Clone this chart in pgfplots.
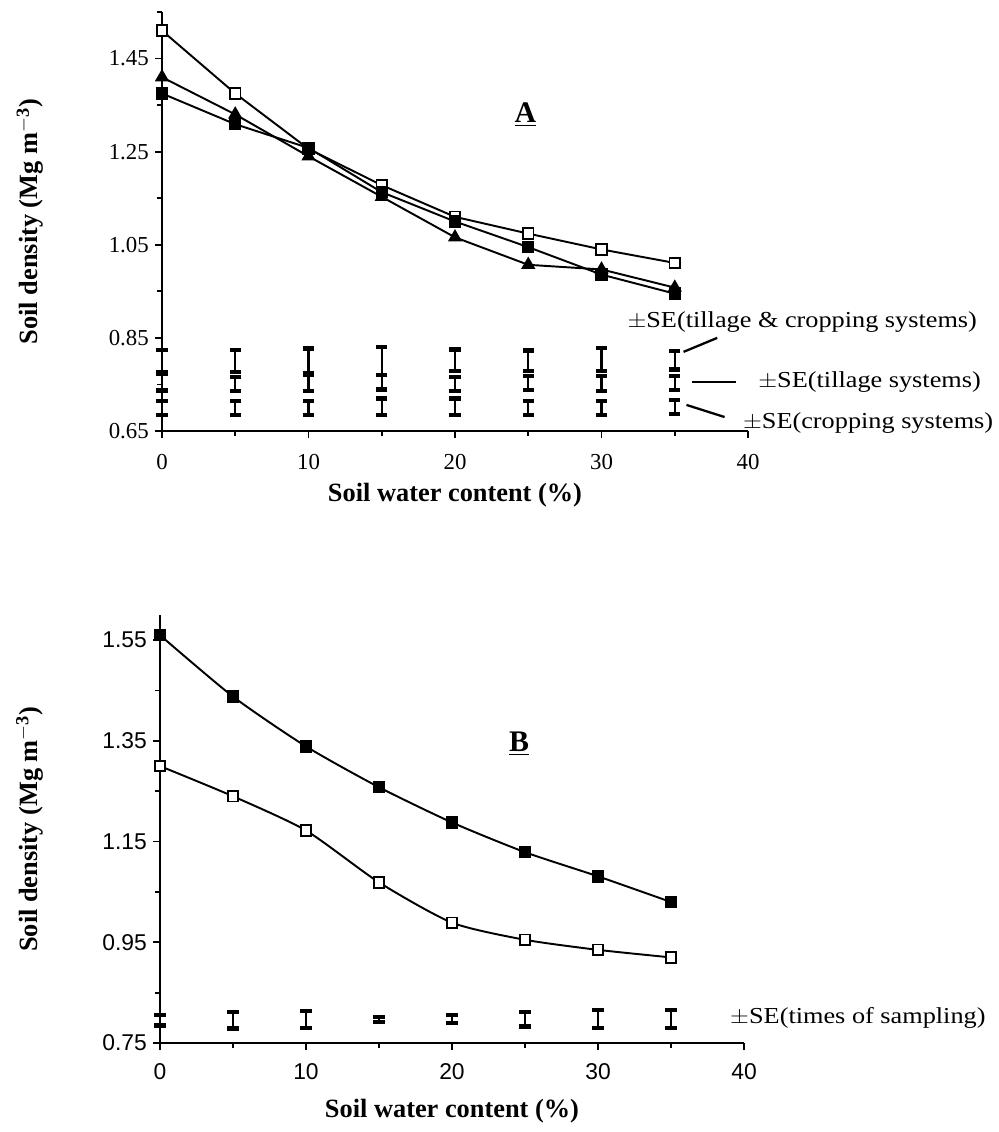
\documentclass[border=0pt]{standalone}
\usepackage{fontspec}
\setmainfont{Liberation Serif}
\setsansfont{Liberation Sans}
\usepackage{graphicx}
\usepackage{pgfplots}
\pgfplotsset{compat=1.18}

% shared look of both panels
\pgfplotsset{soil/.style={
    scale only axis,
    axis x line=bottom, axis y line=left,
    axis line style={line width=1.3pt, -},
    xmin=0, xmax=40,
    xtick={0,10,20,30,40}, minor xtick={5,15,25,35},
    tick align=outside,
    major tick length=0.14cm, minor tick length=0.1cm,
    every tick/.style={line width=1pt, black},
    clip=false,
    xlabel={Soil water content (\%)},
    ylabel={Soil density (Mg m$^{\mathbf{-3}}$)},
    label style={font=\fontsize{15}{17}\selectfont\bfseries},
    ticklabel style={font=\fontsize{13}{15}\selectfont},
    /pgf/number format/assume math mode=true,
    yticklabel style={/pgf/number format/fixed,
        /pgf/number format/fixed zerofill,
        /pgf/number format/precision=2},
}}
\pgfplotsset{sebar/.style={draw=none, mark=none,
    error bars/.cd, y dir=both, y explicit,
    error bar style={draw=black, line width=1.4pt},
    error mark options={draw=black, rotate=90, line width=2.4pt, mark size=3.2pt}}}

\pgfplotstableread{
x    y      e
0    0.800  0.024
5    0.800  0.024
10   0.801  0.026
15   0.800  0.030
20   0.802  0.023
25   0.801  0.022
30   0.804  0.025
35   0.802  0.020
}\tilcrop
\pgfplotstableread{
x    y      e
0    0.755  0.018
5    0.751  0.015
10   0.753  0.017
15   0.755  0.016
20   0.751  0.015
25   0.753  0.015
30   0.752  0.016
35   0.753  0.015
}\tillage
\pgfplotstableread{
x    y      e
0    0.699  0.015
5    0.699  0.015
10   0.699  0.015
15   0.702  0.018
20   0.702  0.018
25   0.699  0.015
30   0.699  0.015
35   0.701  0.015
}\cropping
\pgfplotstableread{
x    y      e
0    0.795  0.010
5    0.795  0.016
10   0.797  0.017
15   0.797  0.005
20   0.798  0.0075
25   0.797  0.014
30   0.798  0.018
35   0.798  0.018
}\sampling

\begin{document}
\begin{tikzpicture}
\useasboundingbox (0,0) rectangle (19.96,-22.64);

% ---------- panel A ----------
\begin{axis}[soil,
    at={(3.24cm,-8.62cm)}, anchor=south west,
    width=11.72cm, height=8.38cm,
    ymin=0.65, ymax=1.55,
    ytick={0.65,0.85,1.05,1.25,1.45},
    minor ytick={0.75,0.95,1.15,1.35,1.55},
    xticklabel style={yshift=-0.2cm},
    xlabel style={at={(axis description cs:0.5,-0.153)}, anchor=center},
    ylabel style={at={(axis description cs:-0.225,0.5)}, anchor=center},
]
\addplot[black, line width=1.1pt, mark=square*, mark size=3pt,
    mark options={fill=white, line width=1pt}] coordinates {
    (0,1.51) (5,1.375) (10,1.256) (15,1.178) (20,1.11)
    (25,1.074) (30,1.04) (35,1.011)};
\addplot[black, line width=1.1pt, mark=triangle*, mark size=3.6pt,
    mark options={fill=black}] coordinates {
    (0,1.41) (5,1.33) (10,1.24) (15,1.153) (20,1.066)
    (25,1.007) (30,0.997) (35,0.958)};
\addplot[black, line width=1.1pt, mark=square*, mark size=3pt,
    mark options={fill=black}] coordinates {
    (0,1.375) (5,1.309) (10,1.258) (15,1.163) (20,1.10)
    (25,1.045) (30,0.986) (35,0.945)};

\addplot[sebar] table[x=x, y=y, y error=e] {\tilcrop};
\addplot[sebar] table[x=x, y=y, y error=e] {\tillage};
\addplot[sebar] table[x=x, y=y, y error=e] {\cropping};

\draw[line width=1.3pt] (axis cs:35.6,0.820) -- (axis cs:37.9,0.850);
\draw[line width=1.3pt] (axis cs:36.2,0.755) -- (axis cs:39.2,0.755);
\draw[line width=1.3pt] (axis cs:35.8,0.706) -- (axis cs:38.4,0.680);
\node[font=\fontsize{13}{15}\selectfont] at (axis cs:43.7,0.884)
    {\scalebox{1.15}[1]{$\pm$SE(tillage \& cropping systems)}};
\node[font=\fontsize{13}{15}\selectfont] at (axis cs:48.3,0.755)
    {\scalebox{1.15}[1]{$\pm$SE(tillage systems)}};
\node[font=\fontsize{13}{15}\selectfont] at (axis cs:48.2,0.668)
    {\scalebox{1.15}[1]{$\pm$SE(cropping systems)}};
\node[font=\fontsize{17}{19}\selectfont\bfseries] at (axis cs:24.8,1.33)
    {\underline{A}};
\end{axis}

% ---------- panel B ----------
\begin{axis}[soil,
    at={(3.2cm,-20.86cm)}, anchor=south west,
    width=11.68cm, height=8.56cm,
    ymin=0.75, ymax=1.60,
    ytick={0.75,0.95,1.15,1.35,1.55},
    minor ytick={0.85,1.05,1.25,1.45},
    ticklabel style={font=\sffamily\fontsize{13}{15}\selectfont},
    xticklabel style={yshift=-0.15cm},
    xlabel style={at={(axis description cs:0.5,-0.159)}, anchor=center},
    ylabel style={at={(axis description cs:-0.223,0.5)}, anchor=center},
]
\addplot[black, line width=1.1pt, smooth, tension=0.4, mark=square*,
    mark size=3pt, mark options={fill=black}] coordinates {
    (0,1.56) (5,1.438) (10,1.339) (15,1.258) (20,1.188)
    (25,1.129) (30,1.081) (35,1.03)};
\addplot[black, line width=1.1pt, smooth, tension=0.4, mark=square*,
    mark size=3pt, mark options={fill=white, line width=1pt}] coordinates {
    (0,1.30) (5,1.24) (10,1.172) (15,1.069) (20,0.989)
    (25,0.955) (30,0.935) (35,0.92)};

\addplot[sebar] table[x=x, y=y, y error=e] {\sampling};

\node[font=\fontsize{13}{15}\selectfont] at (axis cs:47.8,0.80)
    {\scalebox{1.15}[1]{$\pm$SE(times of sampling)}};
\node[font=\fontsize{17}{19}\selectfont\bfseries] at (axis cs:24.6,1.345)
    {\underline{B}};
\end{axis}
\end{tikzpicture}
\end{document}
